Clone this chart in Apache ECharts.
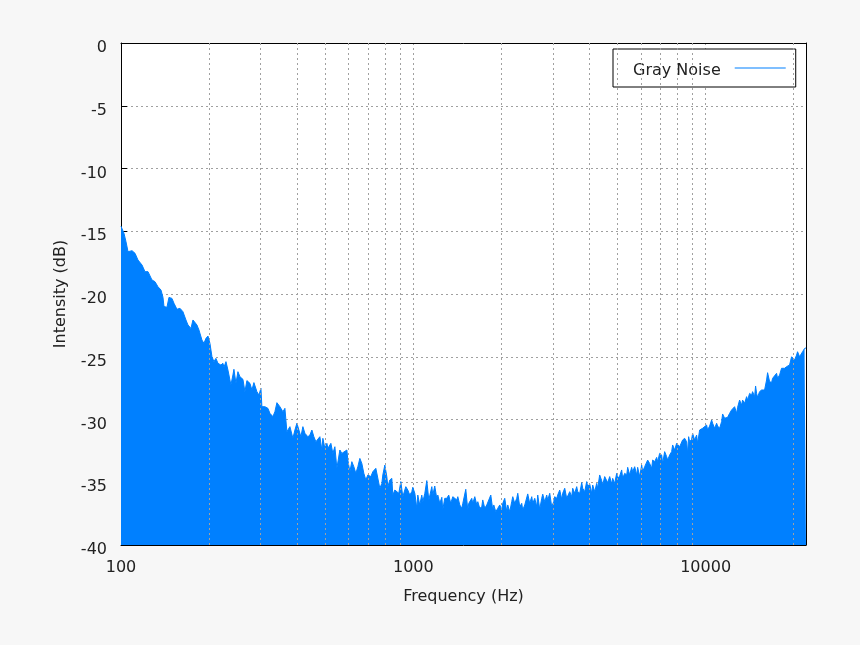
<!DOCTYPE html>
<html>

<head>
  <meta charset="utf-8" />
  <title>Gray Noise</title>
  <style>
    body {
      margin: 0;
      background-color: #f7f7f7;
    }
  </style>
  <script src="https://cdn.jsdelivr.net/npm/echarts@6/dist/echarts.min.js"></script>
</head>

<body>
  <div id="main" style="width: 860px;height:645px;"></div>
  <script type="text/javascript">
    // frequency (Hz) of each point
    var freqs = [
      100, 100.8, 102.4, 104.0, 105.7, 109.1, 111.7, 114.3, 118.0, 120.8,
      123.7, 127.6, 130.7, 133.8, 137.0, 139.2, 140.3, 143.6, 145.9, 149.4,
      151.8, 155.4, 159.1, 162.9, 166.8, 169.5, 173.5, 176.3, 181.9, 184.8,
      189.2, 192.2, 195.3, 198.4, 201.5, 204.7, 207.9, 211.2, 214.6, 219.7,
      223.2, 225.0, 228.6, 232.2, 237.7, 241.5, 243.4, 247.3, 251.2, 255.2,
      261.3, 265.4, 269.6, 276.1, 280.5, 284.9, 291.7, 296.4, 301.1, 303.4,
      310.7, 318.1, 323.2, 330.9, 336.1, 341.5, 349.6, 358.0, 363.7, 369.4,
      378.3, 384.3, 387.3, 393.5, 399.7, 402.9, 412.5, 419.0, 425.7, 435.8,
      442.8, 449.8, 456.9, 464.2, 471.5, 479.0, 486.6, 490.5, 498.2, 506.2,
      510.2, 522.4, 530.6, 539.1, 547.6, 560.7, 569.6, 578.6, 592.5, 597.2,
      606.6, 616.2, 626.0, 636.0, 646.1, 656.3, 666.7, 677.3, 688.0, 698.9,
      715.7, 727.0, 744.4, 756.2, 768.2, 780.4, 786.5, 799.0, 811.7, 818.1,
      831.1, 844.3, 851.0, 864.5, 878.2, 892.1, 906.3, 920.6, 927.9, 942.6,
      957.6, 972.8, 988.2, 996.0, 1012, 1028, 1036, 1052, 1069, 1078,
      1095, 1112, 1130, 1157, 1166, 1184, 1203, 1213, 1232, 1252,
      1261, 1281, 1302, 1322, 1343, 1365, 1386, 1408, 1420, 1442,
      1465, 1477, 1512, 1536, 1548, 1585, 1597, 1623, 1649, 1662,
      1688, 1715, 1728, 1756, 1784, 1798, 1841, 1870, 1885, 1915,
      1945, 1976, 2007, 2023, 2055, 2088, 2104, 2138, 2171, 2189,
      2223, 2259, 2277, 2313, 2349, 2368, 2406, 2444, 2463, 2502,
      2542, 2562, 2603, 2644, 2665, 2707, 2750, 2772, 2816, 2860,
      2883, 2929, 2975, 3022, 3046, 3095, 3119, 3169, 3219, 3244,
      3296, 3348, 3376, 3428, 3483, 3510, 3566, 3622, 3651, 3709,
      3768, 3798, 3858, 3919, 3950, 4013, 4076, 4109, 4174, 4240,
      4273, 4341, 4410, 4445, 4516, 4587, 4623, 4697, 4771, 4809,
      4885, 4963, 5002, 5082, 5162, 5203, 5286, 5370, 5412, 5498,
      5585, 5629, 5719, 5809, 5855, 5948, 6043, 6090, 6187, 6285,
      6335, 6435, 6537, 6589, 6694, 6800, 6854, 6962, 7073, 7129,
      7242, 7357, 7415, 7533, 7652, 7713, 7835, 7959, 8022, 8150,
      8279, 8344, 8477, 8611, 8679, 8748, 8817, 8957, 9028, 9171,
      9316, 9390, 9539, 9690, 9767, 9922, 10079, 10159, 10320, 10484,
      10567, 10735, 10905, 10991, 11166, 11343, 11433, 11614, 11798, 11892,
      12080, 12272, 12369, 12565, 12765, 12866, 13070, 13277, 13382, 13594,
      13810, 13919, 14140, 14365, 14478, 14708, 14824, 14941, 15059, 15298,
      15541, 15664, 15912, 16165, 16293, 16551, 16814, 16947, 17216, 17489,
      17627, 17907, 18191, 18335, 18625, 18921, 19071, 19373, 19681, 19836,
      20151, 20471, 20632, 20960, 21292, 21461, 21801, 22050
    ];

    // intensity (dB) at each frequency
    var levels = [
      -14.60, -14.69, -15.17, -15.83, -16.63, -16.55, -16.76, -17.29, -17.69, -18.22,
      -18.22, -18.88, -19.02, -19.42, -19.68, -20.27, -21.00, -21.06, -20.27, -20.35,
      -20.74, -21.22, -21.14, -21.41, -22.07, -22.47, -22.74, -22.07, -22.47, -22.87,
      -23.67, -23.93, -23.53, -23.35, -23.93, -24.99, -25.39, -25.13, -25.52, -25.66,
      -25.52, -25.84, -25.39, -26.06, -27.25, -26.45, -26.00, -27.12, -26.19, -26.59,
      -26.80, -27.78, -26.90, -27.12, -27.65, -27.06, -27.78, -28.05, -27.51, -28.98,
      -28.98, -29.11, -29.51, -29.77, -29.38, -28.66, -28.98, -29.38, -29.11, -30.97,
      -30.57, -30.44, -31.50, -30.84, -30.30, -30.30, -31.37, -30.57, -31.10, -31.37,
      -31.24, -30.84, -31.37, -31.77, -31.63, -31.37, -32.43, -31.50, -32.30, -31.90,
      -32.30, -31.90, -32.70, -32.17, -33.89, -32.43, -32.70, -32.65, -32.43, -33.23,
      -34.16, -33.36, -33.76, -34.29, -33.76, -33.10, -33.50, -34.29, -34.82, -34.42,
      -34.55, -34.16, -33.89, -33.80, -35.48, -35.09, -34.42, -33.63, -34.55, -35.35,
      -34.82, -34.69, -36.02, -35.62, -35.48, -35.88, -34.95, -36.15, -36.28, -35.35,
      -35.62, -36.02, -35.75, -35.40, -35.88, -37.08, -36.02, -36.81, -36.02, -36.55,
      -35.88, -34.87, -36.41, -35.35, -36.02, -35.30, -36.28, -36.02, -36.68, -36.20,
      -37.21, -36.28, -36.28, -36.02, -36.68, -36.15, -36.15, -36.41, -36.15, -36.81,
      -37.08, -36.68, -35.56, -37.21, -36.68, -36.28, -36.68, -36.15, -36.81, -36.55,
      -37.08, -36.95, -36.41, -37.08, -36.81, -36.68, -36.02, -37.21, -36.81, -37.35,
      -37.08, -36.81, -37.21, -36.68, -36.28, -37.35, -36.81, -37.35, -36.55, -36.15,
      -36.68, -36.28, -35.88, -36.95, -36.68, -37.21, -36.81, -36.95, -35.93, -36.68,
      -36.15, -36.68, -36.28, -36.95, -36.02, -37.16, -36.28, -35.95, -36.55, -36.02,
      -36.41, -35.88, -36.95, -36.55, -36.15, -36.28, -36.02, -35.62, -36.36, -35.88,
      -35.48, -36.28, -36.15, -35.75, -36.15, -35.48, -35.88, -35.35, -35.75, -35.88,
      -35.03, -35.48, -35.75, -34.95, -35.35, -35.14, -35.88, -35.22, -35.75, -35.09,
      -35.48, -34.42, -34.87, -35.22, -34.55, -34.42, -35.03, -34.55, -35.14, -34.69,
      -35.09, -34.29, -34.69, -34.50, -34.02, -34.69, -34.29, -34.42, -33.81, -34.42,
      -33.81, -34.16, -33.76, -34.42, -33.81, -34.55, -33.63, -34.16, -33.76, -33.89,
      -33.23, -33.50, -33.89, -33.23, -33.36, -33.02, -33.36, -32.70, -32.83, -33.50,
      -32.56, -32.96, -33.23, -32.83, -32.56, -32.03, -32.43, -31.90, -31.77, -32.17,
      -32.30, -31.63, -31.50, -31.77, -32.70, -31.37, -31.77, -31.58, -31.10, -31.63,
      -31.24, -31.90, -30.84, -30.84, -30.70, -30.84, -30.44, -30.84, -30.52, -30.04,
      -30.30, -30.70, -30.30, -30.52, -30.70, -30.17, -29.56, -29.90, -29.77, -29.83,
      -29.51, -29.24, -29.24, -28.98, -29.51, -29.03, -28.45, -28.85, -28.45, -28.71,
      -28.18, -28.45, -27.92, -28.05, -27.78, -28.18, -27.33, -27.92, -28.23, -27.78,
      -27.65, -27.51, -27.65, -26.85, -26.27, -26.98, -27.06, -26.72, -26.80, -26.32,
      -26.72, -26.45, -25.92, -25.79, -25.92, -25.79, -25.92, -25.66, -25.00, -25.00,
      -25.26, -24.87, -24.60, -25.00, -25.00, -24.60, -24.34, -24.30
    ];

    // vertical grid lines between the labelled decades
    var minorGrid = [200, 300, 400, 500, 600, 700, 800, 900,
      2000, 3000, 4000, 5000, 6000, 7000, 8000, 9000, 20000];

    var xMin = 100, xMax = 22050;
    var yMin = -40, yMax = 0, yStep = 5;

    var seriesData = [];
    for (let i = 0; i < freqs.length; i++) {
      seriesData.push([freqs[i], levels[i]]);
    }

    var myChart = echarts.init(document.getElementById('main'));

    var gridLine = { color: '#a0a0a0', width: 1, type: [2, 3] };
    var font = 'DejaVu Sans';
    var ink = '#222';

    var option = {
      animation: false,
      backgroundColor: '#f7f7f7',
      textStyle: { fontFamily: font },
      grid: {
        left: 121, right: 54, top: 43, bottom: 100,
        show: true,
        backgroundColor: '#fff',
        borderWidth: 0
      },
      legend: {
        data: [{ name: 'Gray Noise', icon: 'rect' }],
        left: 613,
        top: 49,
        align: 'right',
        itemWidth: 51,
        itemHeight: 1,
        padding: [8, 10, 8, 20],
        backgroundColor: '#fff',
        borderColor: '#000',
        borderWidth: 1,
        selectedMode: false,
        formatter: '{n|{name}}',
        textStyle: {
          rich: {
            // text sits a little below the sample line, with a wider gap before it
            n: {
              fontFamily: font, fontSize: 16, color: ink,
              lineHeight: 18, padding: [6, 9, 0, 0]
            }
          }
        }
      },
      xAxis: [{
        type: 'log',
        logBase: 10,
        min: xMin,
        max: xMax,
        name: 'Frequency (Hz)',
        nameLocation: 'middle',
        nameGap: 44,
        nameTextStyle: { fontFamily: font, fontSize: 16, color: ink },
        axisLine: { onZero: false, lineStyle: { color: '#000', width: 1 } },
        axisTick: { inside: true, length: 6, lineStyle: { color: '#000' } },
        axisLabel: {
          fontFamily: font, fontSize: 16, color: ink, margin: 15,
          showMaxLabel: false,
          formatter: function (v) { return String(Math.round(v)); }
        },
        splitLine: { show: true, lineStyle: gridLine }
      }, {
        // top edge of the frame
        type: 'log',
        logBase: 10,
        min: xMin,
        max: xMax,
        position: 'top',
        axisLine: { onZero: false, lineStyle: { color: '#000', width: 1 } },
        axisTick: { show: false },
        axisLabel: { show: false },
        splitLine: { show: false }
      }],
      yAxis: [{
        type: 'value',
        min: yMin,
        max: yMax,
        interval: yStep,
        name: 'Intensity (dB)',
        nameLocation: 'middle',
        nameGap: 52,
        nameTextStyle: { fontFamily: font, fontSize: 16, color: ink },
        axisLine: { show: true, onZero: false, lineStyle: { color: '#000', width: 1 } },
        axisTick: { show: true, inside: true, length: 6, lineStyle: { color: '#000' } },
        axisLabel: {
          margin: 14,
          formatter: '{v|{value}}',
          rich: {
            v: {
              fontFamily: font, fontSize: 16, color: ink,
              lineHeight: 18, padding: [10, 0, 0, 0]
            }
          }
        },
        splitLine: { show: true, lineStyle: gridLine }
      }, {
        // right edge of the frame
        type: 'value',
        min: yMin,
        max: yMax,
        interval: yStep,
        position: 'right',
        axisLine: { show: true, onZero: false, lineStyle: { color: '#000', width: 1 } },
        axisTick: { show: false },
        axisLabel: { show: false },
        splitLine: { show: false }
      }],
      series: [{
        // minor grid, kept under the noise fill
        type: 'line',
        data: [],
        z: 1,
        silent: true,
        markLine: {
          silent: true,
          symbol: 'none',
          label: { show: false },
          lineStyle: gridLine,
          data: minorGrid.map(function (v) { return { xAxis: v }; })
        }
      }, {
        name: 'Gray Noise',
        type: 'line',
        z: 3,
        data: seriesData,
        showSymbol: false,
        symbol: 'none',
        sampling: null,
        color: '#0080ff',
        lineStyle: { color: '#0080ff', width: 1 },
        areaStyle: { color: '#0080ff', opacity: 1, origin: 'start' }
      }]
    };
    myChart.setOption(option);
  </script>
</body>

</html>
